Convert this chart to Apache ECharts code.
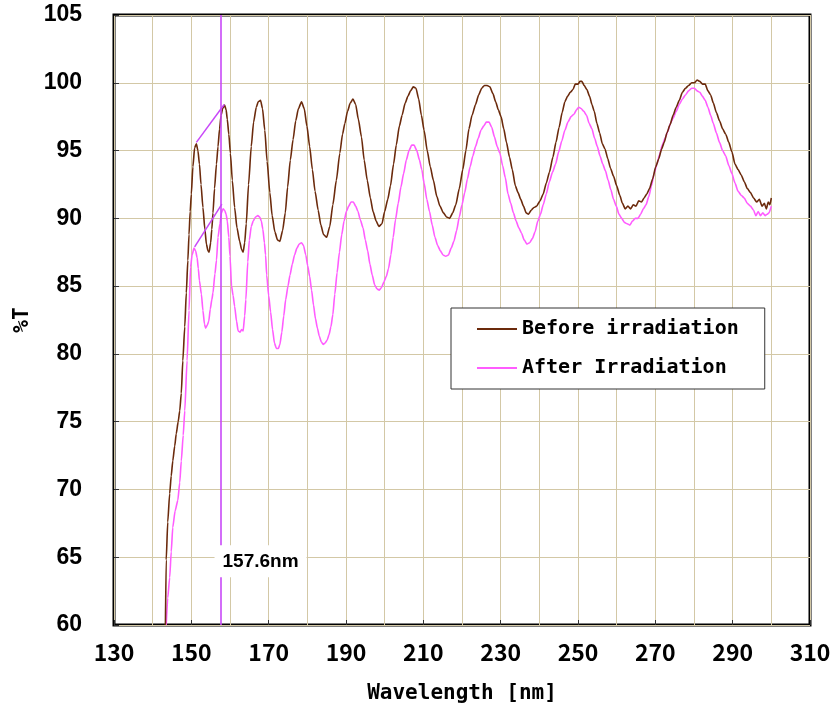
<!DOCTYPE html>
<html>
<head>
<meta charset="utf-8">
<script src="https://cdn.jsdelivr.net/npm/echarts@6/dist/echarts.min.js"></script>
<style>
html,body{margin:0;padding:0;background:#fff;}
#chart{width:834px;height:710px;}
</style>
</head>
<body>
<div id="chart"></div>
<script>
// ---- data ----
var beforeWavelength = [143.3,143.5,143.9,144.4,144.8,145.2,145.7,146.1,146.6,147.0,147.4,147.8,148.3,148.7,149.1,149.4,149.7,150.0,150.4,150.85,151.3,151.7,152.1,152.5,153.0,153.5,153.9,154.3,154.6,155.0,155.3,155.6,156.0,156.5,156.9,157.3,157.7,158.1,158.6,159.0,159.3,159.7,160.1,160.6,161.2,161.8,162.5,163.0,163.4,163.8,164.2,164.8,165.5,166.1,166.8,167.3,167.9,168.4,169.0,169.6,170.3,170.9,171.6,172.3,172.9,173.6,174.3,174.9,175.6,176.3,177.0,177.7,178.5,179.2,179.9,180.6,181.3,182.0,182.8,183.5,184.2,185.0,185.8,186.6,187.5,188.4,189.1,189.7,190.4,191.1,191.8,192.5,193.2,194.0,194.7,195.5,196.3,197.0,197.8,198.5,199.3,200.0,200.8,201.5,202.3,203.0,203.8,204.5,205.3,206.0,206.7,207.4,208.1,208.8,209.5,210.2,211.0,211.8,212.6,213.5,214.3,215.2,216.0,216.8,217.6,218.4,219.3,220.2,221.0,221.8,222.6,223.5,224.3,225.1,225.8,226.5,227.2,228.0,228.7,229.4,230.1,230.8,231.5,232.3,233.0,233.8,234.5,235.2,235.9,236.6,237.2,237.9,238.6,239.3,240.2,241.0,241.8,242.6,243.5,244.3,245.1,245.9,246.6,247.3,248.0,248.7,249.3,250.0,250.5,251.0,251.6,252.3,253.0,253.6,254.2,254.9,255.6,256.3,257.0,257.7,258.4,259.2,260.0,260.8,261.5,262.2,262.9,263.6,264.3,265.0,265.7,266.4,267.1,267.8,268.5,269.3,270.1,270.9,271.6,272.3,273.0,273.8,274.6,275.4,276.2,277.0,277.8,278.6,279.4,280.1,280.8,281.5,282.2,282.9,283.6,284.3,285.0,285.8,286.6,287.4,288.2,289.0,289.8,290.6,291.4,292.2,293.0,293.8,294.6,295.4,296.2,296.9,297.6,298.2,298.7,299.2,299.6,300.0];
var beforeT = [60.0,64.8,67.6,69.7,71.0,72.1,73.2,74.1,75.0,75.8,77.1,79.5,82.0,84.5,86.9,88.8,90.5,91.8,93.8,95.2,95.5,95.0,94.0,92.5,90.8,89.2,88.1,87.6,87.5,88.2,89.2,90.4,92.2,94.0,95.3,96.6,97.6,98.1,98.35,98.0,97.3,96.2,94.8,92.8,90.8,89.3,88.3,87.7,87.5,88.2,89.6,92.5,95.3,97.1,98.2,98.6,98.7,98.1,96.5,94.2,91.9,90.2,89.0,88.4,88.3,89.1,90.4,92.3,94.3,95.8,97.2,98.1,98.6,98.1,96.8,95.3,93.6,92.0,90.6,89.5,88.8,88.6,89.4,91.0,92.8,94.8,96.2,97.0,97.9,98.5,98.8,98.4,97.3,96.0,94.3,92.8,91.5,90.5,89.8,89.4,89.6,90.5,91.4,92.4,94.0,95.4,96.8,97.6,98.5,99.0,99.4,99.7,99.6,98.8,97.6,96.5,95.0,93.8,92.8,91.6,90.9,90.4,90.1,90.0,90.4,91.0,92.2,93.6,95.0,96.6,97.6,98.4,99.1,99.6,99.8,99.8,99.7,99.2,98.6,98.0,97.5,96.6,95.6,94.5,93.6,92.4,91.9,91.4,90.9,90.4,90.3,90.6,90.8,90.9,91.3,91.8,92.6,93.4,94.5,95.6,96.7,97.8,98.6,99.0,99.3,99.5,99.9,99.9,100.1,100.1,99.8,99.5,99.0,98.4,97.9,97.0,96.3,95.5,95.1,94.4,93.7,93.1,92.4,91.7,91.1,90.7,90.9,90.7,91.0,90.9,91.3,91.2,91.5,91.8,92.2,92.9,93.8,94.4,95.1,95.6,96.3,96.9,97.6,98.2,98.7,99.3,99.6,99.8,100.0,100.0,100.2,100.1,99.9,99.9,99.4,99.1,98.5,97.8,97.2,96.6,96.2,95.6,94.9,94.0,93.6,93.2,92.7,92.2,91.9,91.5,91.2,91.4,90.9,91.1,90.7,91.2,91.0,91.5];

var afterWavelength = [143.5,143.9,144.4,144.8,145.2,145.8,146.5,147.0,147.4,147.9,148.3,148.9,149.4,149.8,150.2,150.7,151.1,151.5,151.8,152.1,152.6,153.0,153.4,153.7,154.1,154.5,154.9,155.3,155.6,156.1,156.5,156.9,157.4,157.8,158.2,158.6,159.0,159.3,159.7,160.0,160.4,160.8,161.2,161.7,162.1,162.6,163.0,163.4,163.8,164.1,164.6,165.0,165.5,166.0,166.6,167.2,167.7,168.1,168.5,168.9,169.2,169.5,170.0,170.5,171.0,171.5,172.0,172.5,172.9,173.4,173.9,174.4,175.0,175.5,176.1,176.7,177.3,177.9,178.5,179.0,179.6,180.1,180.6,181.1,181.6,182.1,182.6,183.1,183.6,184.1,184.6,185.1,185.6,186.1,186.6,187.1,187.7,188.3,188.9,189.5,190.1,190.7,191.3,191.9,192.5,193.1,193.7,194.4,195.0,195.6,196.2,196.8,197.4,198.0,198.6,199.2,199.8,200.4,201.0,201.6,202.2,202.8,203.5,204.2,204.9,205.6,206.3,207.0,207.6,208.3,209.0,209.6,210.2,210.9,211.6,212.3,213.0,213.7,214.4,215.1,215.8,216.5,217.2,217.9,218.6,219.3,220.0,220.7,221.4,222.1,222.8,223.5,224.2,224.9,225.6,226.3,227.0,227.7,228.4,229.1,229.8,230.5,231.2,231.9,232.6,233.3,234.0,234.7,235.4,236.1,236.8,237.5,238.2,238.9,239.6,240.3,241.0,241.8,242.6,243.4,244.2,245.0,245.8,246.6,247.4,248.2,249.0,249.6,250.2,250.8,251.5,252.2,252.9,253.6,254.3,255.0,255.7,256.4,257.1,257.8,258.5,259.2,259.9,260.6,261.3,262.0,262.7,263.4,264.1,264.8,265.5,266.2,266.9,267.6,268.3,269.0,269.7,270.4,271.1,271.8,272.5,273.2,273.9,274.6,275.4,276.2,277.0,277.8,278.6,279.4,280.1,280.8,281.5,282.2,282.9,283.6,284.3,285.0,285.8,286.6,287.4,288.2,289.0,289.8,290.6,291.4,292.2,293.0,293.8,294.6,295.4,296.0,296.6,297.2,297.8,298.4,298.9,299.4,300.0];
var afterT = [60.0,62.0,63.5,65.4,67.2,68.4,69.2,70.5,72.1,74.0,75.8,79.5,83.2,86.4,87.3,87.8,87.6,87.1,86.3,85.4,84.4,83.2,82.2,81.9,82.1,82.4,83.3,84.0,84.5,85.9,86.9,88.6,89.6,90.4,90.7,90.6,90.3,89.8,88.6,87.2,85.0,84.3,83.5,82.4,81.7,81.6,81.8,81.7,82.8,84.0,86.8,88.4,89.4,89.8,90.1,90.2,90.1,89.8,89.2,88.2,87.3,85.8,84.3,83.1,81.8,80.8,80.4,80.4,80.7,81.6,82.8,84.0,85.0,85.8,86.6,87.3,87.8,88.1,88.2,88.0,87.3,86.5,85.7,84.7,83.6,82.6,81.9,81.3,80.9,80.7,80.8,81.0,81.4,82.0,82.9,84.4,86.0,87.5,88.8,89.8,90.5,90.9,91.2,91.2,90.9,90.5,89.9,89.3,88.4,87.6,86.6,85.8,85.1,84.8,84.7,84.9,85.3,85.7,86.3,87.3,88.6,89.9,91.1,92.3,93.3,94.3,95.0,95.4,95.4,95.0,94.3,93.6,92.6,91.4,90.5,89.5,88.6,88.0,87.6,87.3,87.2,87.3,87.8,88.3,89.1,90.1,91.0,91.9,92.9,93.8,94.6,95.3,95.9,96.5,96.8,97.1,97.1,96.7,96.0,95.3,94.8,93.9,93.0,91.8,91.1,90.4,89.8,89.3,88.9,88.4,88.1,88.2,88.5,89.0,89.8,90.3,91.0,91.8,92.7,93.4,94.0,94.9,95.7,96.5,97.1,97.5,97.7,98.0,98.2,98.1,97.9,97.6,97.0,96.6,95.9,95.3,94.6,94.0,93.5,92.8,92.1,91.4,90.9,90.3,90.0,89.7,89.6,89.5,89.8,90.0,90.0,90.3,90.7,91.0,91.6,92.4,93.3,94.0,94.7,95.4,95.9,96.4,97.0,97.4,97.9,98.4,98.8,99.1,99.4,99.6,99.6,99.4,99.3,99.0,98.7,98.2,97.6,97.0,96.3,95.6,95.0,94.6,93.9,93.3,92.6,92.0,91.7,91.5,91.1,90.9,90.6,90.2,90.5,90.2,90.4,90.2,90.3,90.4,90.9];

// annotation
var markerWavelength = 157.6;
var markerLabel = '157.6nm';
var leaderBeforeWl = [151.3, 158.5];
var leaderBeforeT = [95.6, 98.4];
var leaderAfterWl = [150.85, 157.9];
var leaderAfterT = [87.9, 91.05];
var labelBoxPos = [167.9, 64.7];

var xTicks = {min: 130, max: 310, step: 20};
var yTicks = {min: 60, max: 105, step: 5};
var seriesNames = ['Before irradiation', 'After Irradiation'];

function pairs(xs, ys) { return xs.map(function (x, i) { return [x, ys[i]]; }); }

var gridColor = '#d3c8a6';
var markColor = '#c848f8';
var brown = '#6b2a0c';
var pink = '#ff5cff';

var chart = echarts.init(document.getElementById('chart'), null, {renderer: 'canvas'});
chart.setOption({
  animation: false,
  backgroundColor: '#ffffff',
  grid: {left: 114, right: 24, top: 15, bottom: 85, show: true, borderColor: '#000', borderWidth: 3, backgroundColor: 'transparent'},
  xAxis: {
    type: 'value', min: xTicks.min, max: xTicks.max, interval: xTicks.step,
    name: 'Wavelength [nm]', nameLocation: 'middle', nameGap: 58,
    nameTextStyle: {fontFamily: 'DejaVu Sans Mono', fontWeight: 'bold', fontSize: 21, color: '#000'},
    axisLine: {show: false},
    axisTick: {show: true, inside: true, length: 5, lineStyle: {color: '#333', width: 1}},
    minorTick: {show: false, splitNumber: 2},
    splitLine: {show: true, lineStyle: {color: gridColor, width: 1}},
    minorSplitLine: {show: true, lineStyle: {color: gridColor, width: 1}},
    axisLabel: {margin: 16, fontFamily: 'Noto Sans CJK JP', fontWeight: 'bold', fontSize: 23, color: '#000'}
  },
  yAxis: {
    type: 'value', min: yTicks.min, max: yTicks.max, interval: yTicks.step,
    name: '%T', nameLocation: 'middle', nameGap: 76, nameRotate: 90,
    nameTextStyle: {fontFamily: 'DejaVu Sans Mono', fontWeight: 'bold', fontSize: 21, color: '#000'},
    axisLine: {show: false},
    axisTick: {show: true, inside: true, length: 5, lineStyle: {color: '#333', width: 1}},
    splitLine: {show: true, lineStyle: {color: gridColor, width: 1}},
    axisLabel: {margin: 32, fontFamily: 'Liberation Sans', fontWeight: 'bold', fontSize: 23, color: '#000'}
  },
  legend: {
    data: [
      {name: seriesNames[0], icon: 'rect', itemStyle: {color: brown}},
      {name: seriesNames[1], icon: 'rect', itemStyle: {color: pink}}
    ],
    orient: 'vertical', left: 451, top: 308,
    padding: [11, 26, 11, 26], itemGap: 19, itemWidth: 40, itemHeight: 2,
    backgroundColor: '#fff', borderColor: '#333', borderWidth: 1,
    textStyle: {fontFamily: 'DejaVu Sans Mono', fontWeight: 'bold', fontSize: 20, color: '#000'}
  },
  series: [
    {
      name: seriesNames[0], type: 'line', data: pairs(beforeWavelength, beforeT),
      symbol: 'none', smooth: 0.2, smoothMonotone: 'x',
      lineStyle: {color: brown, width: 1.6}, itemStyle: {color: brown}, z: 3
    },
    {
      name: seriesNames[1], type: 'line', data: pairs(afterWavelength, afterT),
      symbol: 'none', smooth: 0.2, smoothMonotone: 'x',
      lineStyle: {color: pink, width: 1.6}, itemStyle: {color: pink}, z: 2,
      markLine: {
        silent: true, symbol: 'none', animation: false,
        lineStyle: {color: markColor, width: 1.6, type: 'solid'},
        label: {show: false},
        data: [{xAxis: markerWavelength}]
      }
    },
    {
      name: 'leaderBefore', type: 'line', data: pairs(leaderBeforeWl, leaderBeforeT),
      symbol: 'none', lineStyle: {color: markColor, width: 1.5}, z: 4, silent: true
    },
    {
      name: 'leaderAfter', type: 'line', data: pairs(leaderAfterWl, leaderAfterT),
      symbol: 'none', lineStyle: {color: markColor, width: 1.5}, z: 4, silent: true,
      markPoint: {
        silent: true, animation: false,
        symbol: 'rect', symbolSize: [92, 32],
        itemStyle: {color: '#fff'},
        label: {show: true, position: 'inside', formatter: markerLabel, color: '#000',
          fontFamily: 'Liberation Sans', fontWeight: 'bold', fontSize: 19},
        data: [{coord: labelBoxPos}]
      }
    }
  ]
});
</script>
</body>
</html>
